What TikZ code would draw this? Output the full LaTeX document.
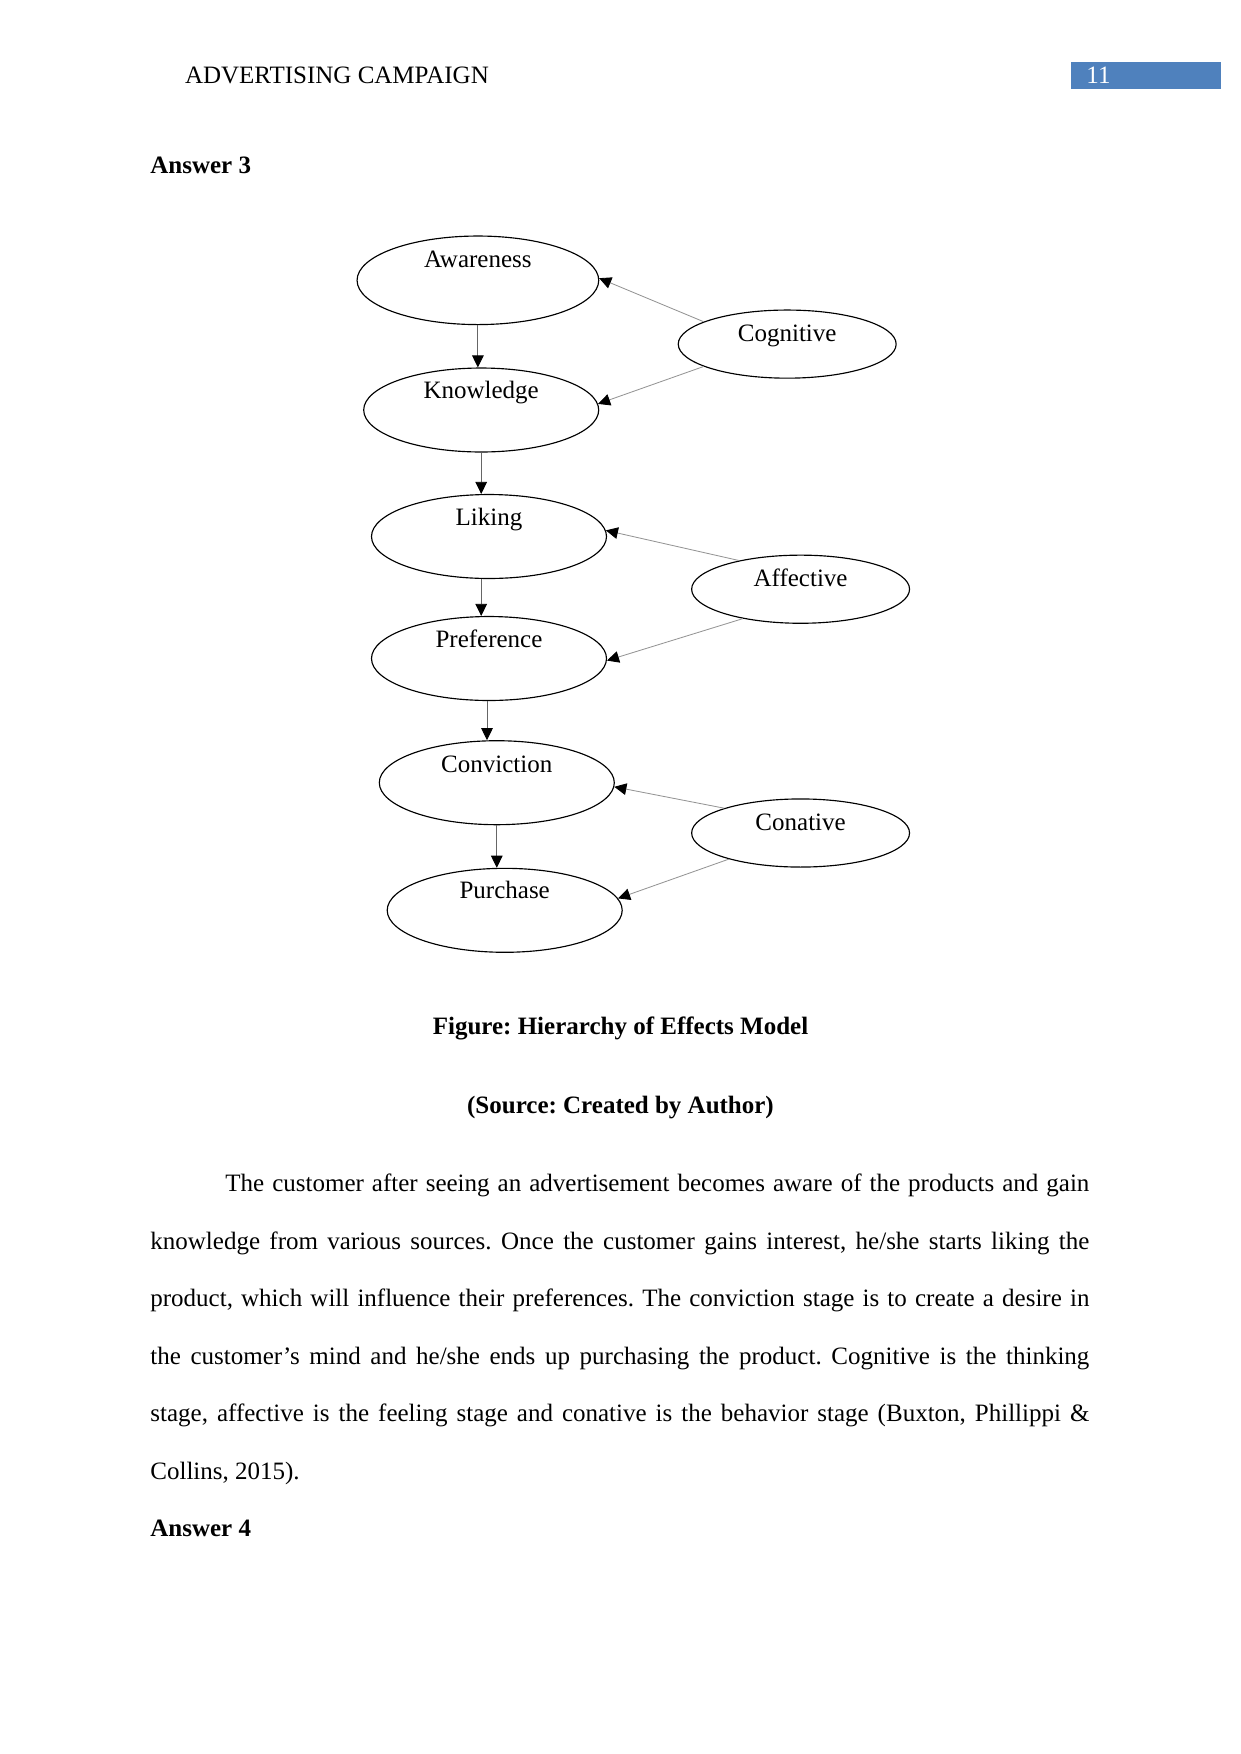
\documentclass[tikz,border=0pt]{standalone}
\usepackage{fontspec}
\setmainfont{Liberation Serif}
\usetikzlibrary{arrows.meta,shapes.geometric}
\definecolor{hdrblue}{HTML}{4F81BD}
\begin{document}
\frenchspacing
\begin{tikzpicture}[x=0.48pt,y=-0.48pt,
  font=\fontsize{12}{14}\selectfont\frenchspacing,
  stage/.style={draw=black, line width=0.55pt, ellipse, inner sep=0pt, minimum width=112.8pt, minimum height=40.3pt},
  group/.style={draw=black, line width=0.55pt, ellipse, inner sep=0pt, minimum width=104.6pt, minimum height=32.7pt},
  lbl/.style={anchor=base, inner sep=0pt},
  txt/.style={anchor=base west, inner sep=0pt},
  tip/.style={-{Triangle[length=5.8pt,width=5.6pt,color=black]}},
  varr/.style={tip, draw=black!60, line width=0.4pt},
  darr/.style={tip, draw=black!42, line width=0.4pt},
]
\useasboundingbox (0,0) rectangle (1241,1754);

% header
\node[txt] (hdr) at (184.6,83.5) {ADVERTISING CAMPAIGN};
\node[fill=hdrblue, inner sep=0pt, minimum width=72pt, minimum height=12.9pt, anchor=north west] (pgbox) at (1071,61.5) {};
\node[txt, text=white] (pgnum) at (1086,83.5) {11};

\node[txt, font=\fontsize{12}{14}\selectfont\bfseries] (ans3) at (150,173) {Answer 3};

% ellipses
\node[stage, minimum width=116pt, minimum height=42.5pt] (aw) at (477.9,280.3) {};
\node[stage] (kn) at (481.2,410) {};
\node[stage] (li) at (489,536.5) {};
\node[stage] (pref) at (489,658.5) {};
\node[stage] (conv) at (496.8,782.7) {};
\node[stage] (pur) at (504.7,910.3) {};
\node[group] (cog) at (787.2,344.1) {};
\node[group] (aff) at (800.6,589.2) {};
\node[group] (con) at (800.6,833) {};

% labels
\node[lbl] (awt) at (477.9,267.3) {Awareness};
\node[lbl] (knt) at (481.2,398) {Knowledge};
\node[lbl] (lit) at (489,525) {Liking};
\node[lbl] (preft) at (489,647.5) {Preference};
\node[lbl] (convt) at (496.8,772.5) {Conviction};
\node[lbl] (purt) at (504.7,898.3) {Purchase};
\node[lbl] (cogt) at (787.2,341.5) {Cognitive};
\node[lbl] (afft) at (800.6,586.5) {Affective};
\node[lbl] (cont) at (800.6,830.5) {Conative};

% vertical arrows
\draw[varr] (aw.south) -- (aw.south |- kn.north);
\draw[varr] (kn.south) -- (kn.south |- li.north);
\draw[varr] (li.south -| kn.south) -- (kn.south |- pref.north);
\draw[varr] (pref.south) ++(-2,0) coordinate (ps) -- (ps |- conv.north);
\draw[varr] (conv.south) -- (conv.south |- pur.north);

% diagonal arrows
\draw[darr] (cog.165) -- (aw.1);
\draw[darr] (cog.195) -- (kn.3);
\draw[darr] (aff.155) -- (li.3);
\draw[darr] (aff.207) -- (pref.-1);
\draw[darr] (con.162) -- (conv.-2);
\draw[darr] (con.200) -- (pur.6);

% caption
\node[lbl, font=\fontsize{12}{14}\selectfont\bfseries\frenchspacing] (cap) at (620.5,1034.5) {Figure: Hierarchy of Effects Model};
\node[lbl, font=\fontsize{12}{14}\selectfont\bfseries\frenchspacing] (src) at (620.5,1113.5) {(Source: Created by Author)};

% paragraph
\node[txt] (p1) at (225,1191) {\makebox[414.7pt][s]{The customer after seeing an advertisement becomes aware of the products and gain}};
\node[txt] (p2) at (150,1249) {\makebox[450.7pt][s]{knowledge from various sources. Once the customer gains interest, he/she starts liking the}};
\node[txt] (p3) at (150,1306.5) {\makebox[450.7pt][s]{product, which will influence their preferences. The conviction stage is to create a desire in}};
\node[txt] (p4) at (150,1364.2) {\makebox[450.7pt][s]{the customer’s mind and he/she ends up purchasing the product. Cognitive is the thinking}};
\node[txt] (p5) at (150,1421.7) {\makebox[450.7pt][s]{stage, affective is the feeling stage and conative is the behavior stage (Buxton, Phillippi \&}};
\node[txt] (p6) at (150,1479) {Collins, 2015).};

\node[txt, font=\fontsize{12}{14}\selectfont\bfseries] (ans4) at (150,1536) {Answer 4};
\end{tikzpicture}
\end{document}
